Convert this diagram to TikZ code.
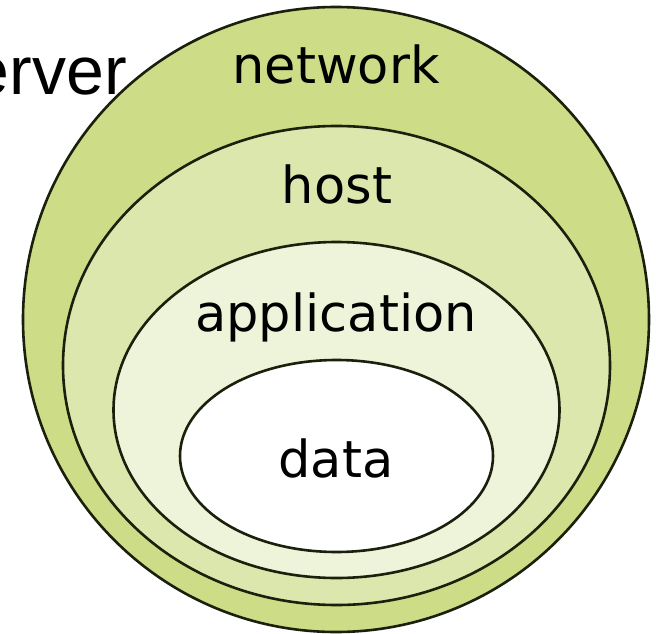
\documentclass[tikz,border=0pt]{standalone}
\usepackage{fontspec}
\setmainfont{DejaVu Sans}
\newfontfamily\arialfont{Liberation Sans}
\definecolor{netfill}{HTML}{CDDC87}
\definecolor{hostfill}{HTML}{DCE7AE}
\definecolor{appfill}{HTML}{EEF4D9}
\definecolor{ringline}{HTML}{1A200C}
\tikzset{
  ring/.style={draw=ringline, line width=2.6pt},
  layerlabel/.style={font=\fontsize{51}{60}\selectfont, text=black, inner sep=0pt, anchor=base},
  titlelabel/.style={font=\arialfont\fontsize{68}{80}\selectfont, text=black, inner sep=0pt, anchor=base east}
}
\begin{document}
\begin{tikzpicture}[x=1pt,y=-1pt]
\useasboundingbox (0,0) rectangle (656,634);
\clip (0,0) rectangle (656,634);
\draw[ring, fill=netfill] (336,319.5) ellipse [x radius=313, y radius=312.5];
\draw[ring, fill=hostfill] (336.5,365.5) ellipse [x radius=273.5, y radius=239.5];
\draw[ring, fill=appfill] (336.5,410) ellipse [x radius=223, y radius=168];
\draw[ring, fill=white] (336.5,456) ellipse [x radius=156.5, y radius=96];
\node[layerlabel] (network) at (336,84) {network};
\node[layerlabel] (host) at (337,203) {host};
\node[layerlabel] (application) at (336,331) {application};
\node[layerlabel] (data) at (336,477) {data};
\node[titlelabel] (server) at (127,94) {Server};
\end{tikzpicture}
\end{document}
